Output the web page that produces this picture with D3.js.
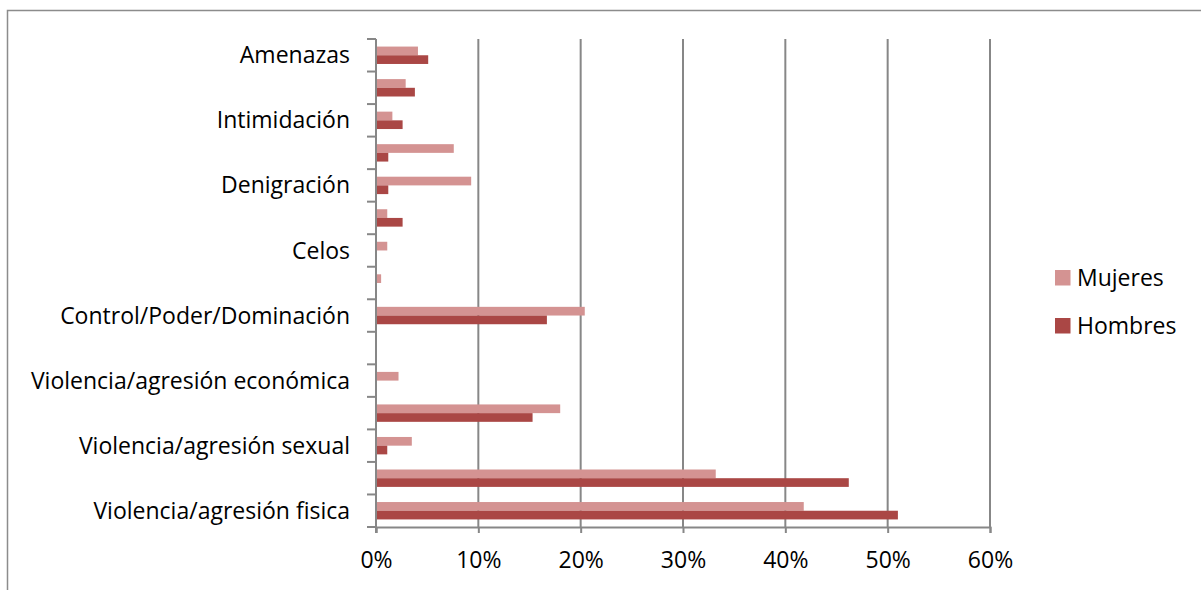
<!DOCTYPE html>
<html>
<head>
<meta charset="utf-8">
<script src="https://cdn.jsdelivr.net/npm/d3@7"></script>
<style>
  html, body { margin: 0; padding: 0; background: #fff; }
  svg { display: block; }
  text { font-family: "Open Sans", sans-serif; fill: #000; }
</style>
</head>
<body>
<svg id="chart" width="1201" height="590"></svg>
<script>
// Category labels (top to bottom); empty strings are categories whose labels are skipped on the axis
const categoryLabels = [
  "Amenazas", "", "Intimidación", "", "Denigración", "", "Celos", "",
  "Control/Poder/Dominación", "", "Violencia/agresión económica", "",
  "Violencia/agresión sexual", "", "Violencia/agresión fisica"
];
// Percentages per category
const mujeres = [4.1, 2.9, 1.6, 7.6, 9.3, 1.1, 1.1, 0.5, 20.4, 0, 2.2, 18.0, 3.5, 33.2, 41.8];
const hombres = [5.1, 3.8, 2.6, 1.2, 1.2, 2.6, 0, 0, 16.7, 0, 0, 15.3, 1.1, 46.2, 51.0];
const seriesNames = ["Mujeres", "Hombres"];
const xTicks = [0, 10, 20, 30, 40, 50, 60];

const colors = { Mujeres: "#d49392", Hombres: "#aa4745" };
const gridColor = "#878787";
const fontSize = 23;

const svg = d3.select("#chart");
const plot = { left: 376, right: 990, top: 39, bottom: 527 };

// Outer frame (top and left edges)
svg.append("path")
  .attr("d", "M7.5,590 V10.5 H1201")
  .attr("fill", "none").attr("stroke", "#8c8c8c").attr("stroke-width", 1.5);

const x = d3.scaleLinear().domain([0, 60]).range([plot.left, plot.right]);
const y = d3.scaleBand().domain(d3.range(categoryLabels.length)).range([plot.top, plot.bottom]).paddingInner(0).paddingOuter(0);
const groupH = 17.4;
const ySub = d3.scaleBand().domain(seriesNames).range([0, groupH]);

// Vertical gridlines (skip 0, that is the category axis)
svg.append("g").selectAll("line").data(xTicks.filter(d => d > 0)).join("line")
  .attr("x1", d => x(d)).attr("x2", d => x(d))
  .attr("y1", plot.top).attr("y2", plot.bottom)
  .attr("stroke", gridColor).attr("stroke-width", 2);

// Bars
const rows = categoryLabels.map((label, i) => ({ i, Mujeres: mujeres[i], Hombres: hombres[i] }));
const groups = svg.append("g").selectAll("g").data(rows).join("g")
  .attr("transform", d => `translate(0,${y(d.i) + (y.bandwidth() - groupH) / 2})`);
groups.selectAll("rect").data(d => seriesNames.map(s => ({ s, v: d[s] })).filter(e => e.v > 0)).join("rect")
  .attr("x", x(0))
  .attr("y", e => ySub(e.s))
  .attr("width", e => x(e.v) - x(0))
  .attr("height", ySub.bandwidth())
  .attr("fill", e => colors[e.s]);

// Bottom value axis
const xAxis = svg.append("g").attr("transform", `translate(0,${plot.bottom})`)
  .call(d3.axisBottom(x).tickValues(xTicks).tickFormat(d => d + "%").tickSize(6).tickPadding(19));
xAxis.select(".domain").attr("stroke", gridColor).attr("stroke-width", 2);
xAxis.selectAll(".tick line").attr("stroke", gridColor).attr("stroke-width", 2);
xAxis.selectAll(".tick text").attr("font-size", fontSize).attr("font-family", "Open Sans").attr("fill", "#000");

// Left category axis: tick marks on band boundaries, labels centred on bands
const yAxis = svg.append("g");
yAxis.append("line")
  .attr("x1", x(0)).attr("x2", x(0))
  .attr("y1", plot.top).attr("y2", plot.bottom + 6)
  .attr("stroke", gridColor).attr("stroke-width", 2);
const boundaries = d3.range(categoryLabels.length).map(i => y(i)).concat([plot.bottom]);
yAxis.selectAll("line.tk").data(boundaries).join("line").attr("class", "tk")
  .attr("x1", x(0) - 9).attr("x2", x(0))
  .attr("y1", d => d).attr("y2", d => d)
  .attr("stroke", gridColor).attr("stroke-width", 2);
yAxis.selectAll("text").data(rows.filter(d => categoryLabels[d.i] !== "")).join("text")
  .attr("x", 350)
  .attr("y", d => y(d.i) + y.bandwidth() / 2)
  .attr("dy", "0.35em")
  .attr("text-anchor", "end")
  .attr("font-size", fontSize)
  .text(d => categoryLabels[d.i]);

// Legend
const legend = svg.append("g").selectAll("g").data(seriesNames).join("g")
  .attr("transform", (d, i) => `translate(1055,${270 + i * 48})`);
legend.append("rect").attr("width", 15.5).attr("height", 15.5).attr("fill", d => colors[d]);
legend.append("text").attr("x", 22).attr("y", 8).attr("dy", "0.35em")
  .attr("font-size", fontSize).text(d => d);
</script>
</body>
</html>
